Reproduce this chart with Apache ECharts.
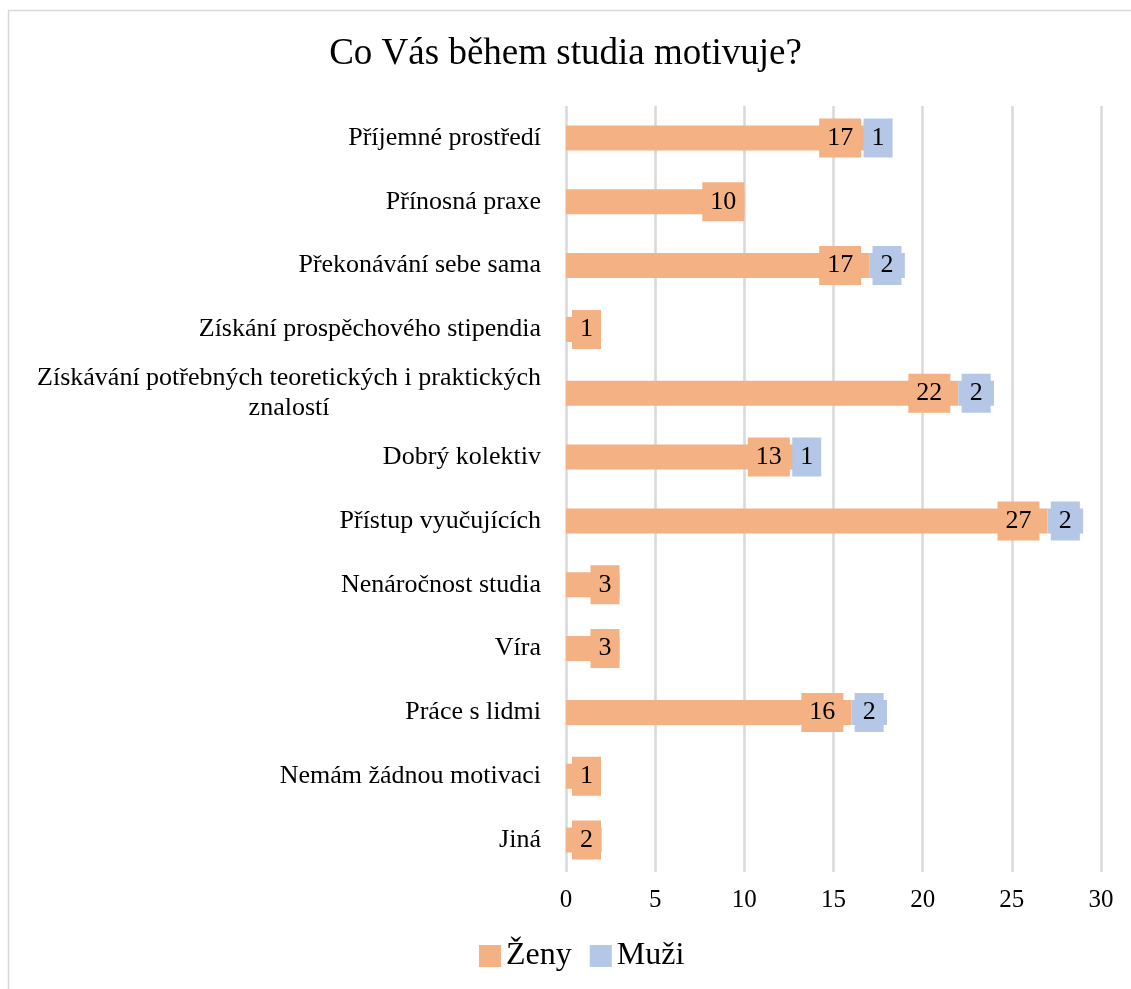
<!DOCTYPE html>
<html>
<head>
<meta charset="utf-8">
<script src="https://cdn.jsdelivr.net/npm/echarts@6/dist/echarts.min.js"></script>
<style>
  html, body { margin: 0; padding: 0; background: #fff; }
  #chart { width: 1131px; height: 989px; }
</style>
</head>
<body>
<div id="chart"></div>
<script>
// kategorie (shora dolů)
var categories = [
  'Příjemné prostředí',
  'Přínosná praxe',
  'Překonávání sebe sama',
  'Získání prospěchového stipendia',
  'Získávání potřebných teoretických i praktických\nznalostí',
  'Dobrý kolektiv',
  'Přístup vyučujících',
  'Nenáročnost studia',
  'Víra',
  'Práce s lidmi',
  'Nemám žádnou motivaci',
  'Jiná'
];
var zeny = [17, 10, 17, 1, 22, 13, 27, 3, 3, 16, 1, 2];
var muzi = [1, null, 2, null, 2, 1, 2, null, null, 2, null, null];
var xTicks = [0, 5, 10, 15, 20, 25, 30];

var serif = '"Liberation Serif", "Times New Roman", serif';
var orange = '#F4B183';
var blue = '#B4C7E7';

var chart = echarts.init(document.getElementById('chart'));

// štítky ženy - malé hodnoty zleva, ostatní u konce sloupce
var zenyData = zeny.map(function (v, i) {
  return {
    value: v,
    label: {
      position: v < 2.5 ? 'insideLeft' : 'insideRight',
      distance: v < 2.5 ? 6 : (muzi[i] ? 8 : 0)
    }
  };
});

var labelBase = {
  show: true,
  color: '#000',
  fontFamily: serif,
  fontSize: 26,
  lineHeight: 28,
  padding: [6, 8, 5, 8]
};

var option = {
  backgroundColor: '#fff',
  animation: false,
  title: {
    text: 'Co Vás během studia motivuje?',
    left: 'center',
    top: 31,
    textStyle: { fontFamily: serif, fontSize: 37, fontWeight: 'normal', color: '#000' }
  },
  graphic: [
    { type: 'line', shape: { x1: 8, y1: 10.5, x2: 1131, y2: 10.5 }, style: { stroke: '#d9d9d9', lineWidth: 1.5 } },
    { type: 'line', shape: { x1: 8.5, y1: 10, x2: 8.5, y2: 989 }, style: { stroke: '#d9d9d9', lineWidth: 1.5 } }
  ],
  legend: {
    data: ['Ženy', 'Muži'],
    bottom: 12,
    left: 474,
    icon: 'rect',
    itemWidth: 22,
    itemHeight: 22,
    itemGap: 18,
    textStyle: { fontFamily: serif, fontSize: 32, color: '#000' }
  },
  grid: { left: 566, right: 30, top: 106, bottom: 117 },
  xAxis: {
    type: 'value',
    min: 0,
    max: 30,
    interval: 5,
    axisLine: { show: false },
    axisTick: { show: false },
    splitLine: { lineStyle: { color: '#d9d9d9', width: 2.5 } },
    axisLabel: {
      color: '#000',
      fontFamily: serif,
      fontSize: 25,
      margin: 16,
      formatter: function (v) { return xTicks.indexOf(v) >= 0 ? String(v) : ''; }
    }
  },
  yAxis: {
    type: 'category',
    inverse: true,
    data: categories,
    axisLine: { show: false },
    axisTick: { show: false },
    axisLabel: {
      color: '#000',
      fontFamily: serif,
      fontSize: 26,
      margin: 25,
      lineHeight: 30,
      // víceřádkový popisek centrovaný jako v Excelu
      formatter: function (v) {
        var lines = v.split('\n');
        if (lines.length < 2) return v;
        return lines.map(function (l) { return '{c|' + l + '}'; }).join('\n');
      },
      rich: {
        c: { align: 'center', fontFamily: serif, fontSize: 26, lineHeight: 30, color: '#000' }
      }
    }
  },
  series: [
    {
      name: 'Ženy',
      type: 'bar',
      stack: 'celkem',
      barWidth: 25,
      itemStyle: { color: orange },
      label: Object.assign({ backgroundColor: orange }, labelBase),
      data: zenyData
    },
    {
      name: 'Muži',
      type: 'bar',
      stack: 'celkem',
      barWidth: 25,
      itemStyle: { color: blue },
      label: Object.assign({ backgroundColor: blue, position: 'inside' }, labelBase),
      data: muzi
    }
  ]
};

chart.setOption(option);
</script>
</body>
</html>
